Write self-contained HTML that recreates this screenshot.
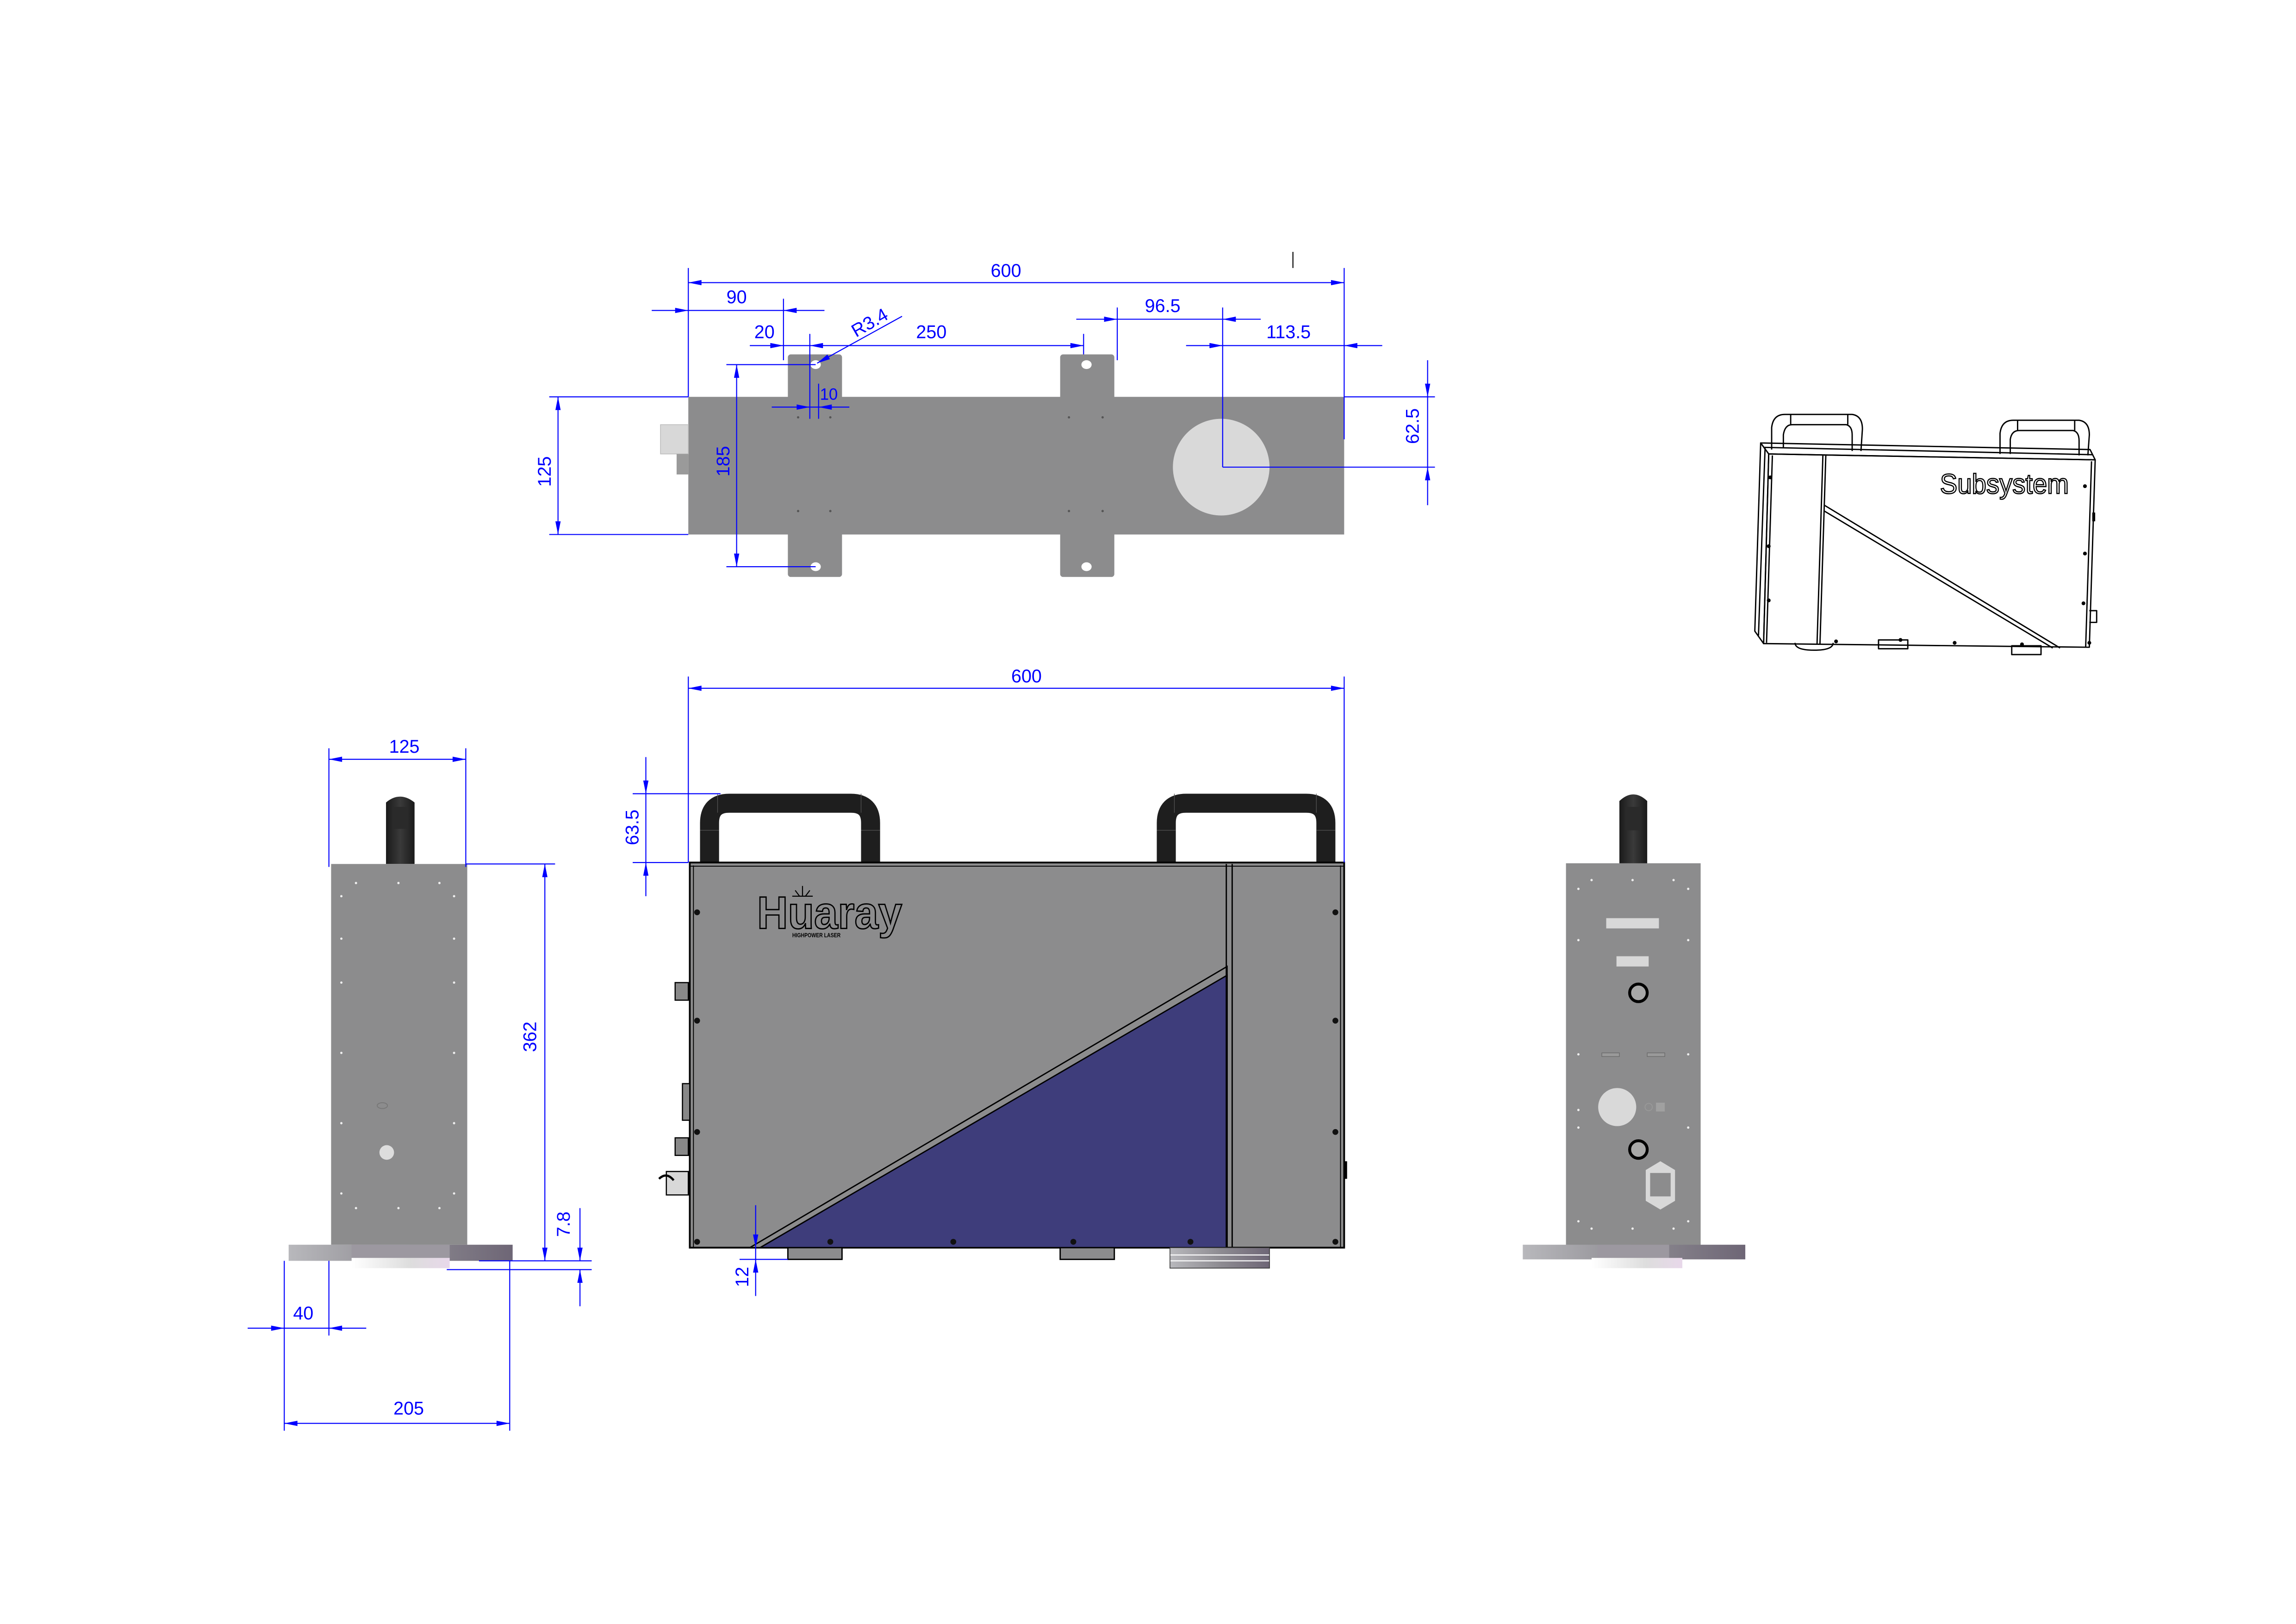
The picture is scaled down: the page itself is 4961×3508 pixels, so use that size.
<!DOCTYPE html>
<html><head><meta charset="utf-8"><style>
html,body{margin:0;padding:0;background:#fff;}
svg{display:block;}
.d{stroke:#0000ff;stroke-width:0.7;fill:none;}
.t{fill:#0000ff;font-family:"Liberation Sans Narrow","Liberation Sans",sans-serif;font-size:12.5px;text-anchor:middle;}
.k{stroke:#000;fill:none;}
</style></head><body>
<svg width="4961" height="3508" viewBox="0 0 1568 1109" xmlns="http://www.w3.org/2000/svg">
<defs>
<marker id="a" viewBox="0 0 10 4" refX="10" refY="2" markerWidth="10" markerHeight="3.6" markerUnits="userSpaceOnUse" orient="auto-start-reverse"><path d="M0,0 L10,2 L0,4z" fill="#0000ff"/></marker>
<linearGradient id="bg" x1="0" x2="1" y1="0" y2="0"><stop offset="0" stop-color="#b8b8bc"/><stop offset="0.5" stop-color="#8e8c92"/><stop offset="1" stop-color="#6e6676"/></linearGradient>
<linearGradient id="wg" x1="0" x2="1"><stop offset="0" stop-color="#fff"/><stop offset="0.6" stop-color="#ddd"/><stop offset="1" stop-color="#e8d8ea"/></linearGradient>
<linearGradient id="kn" x1="0" x2="1"><stop offset="0" stop-color="#1a1a1a"/><stop offset="0.5" stop-color="#3a3a3a"/><stop offset="1" stop-color="#1a1a1a"/></linearGradient>
</defs>

<!-- ================= TOP VIEW ================= -->
<rect x="538" y="242" width="37" height="152" rx="2" fill="#8c8c8d"/>
<rect x="724" y="242" width="37" height="152" rx="2" fill="#8c8c8d"/>
<rect x="470" y="271" width="448" height="94" fill="#8c8c8d"/>
<ellipse cx="557" cy="249" rx="3.5" ry="3" fill="#fff"/>
<ellipse cx="557" cy="387" rx="3.5" ry="3" fill="#fff"/>
<ellipse cx="742" cy="249" rx="3.5" ry="3" fill="#fff"/>
<ellipse cx="742" cy="387" rx="3.5" ry="3" fill="#fff"/>
<circle cx="834" cy="319" r="33" fill="#d9d9d9"/>
<rect x="451" y="290" width="19" height="20" fill="#d8d8d8" stroke="#bbb" stroke-width="0.5"/>
<rect x="462" y="310" width="8" height="14" fill="#9a9a9a"/>
<g fill="#555"><circle cx="545" cy="285" r="0.8"/><circle cx="567" cy="285" r="0.8"/><circle cx="730" cy="285" r="0.8"/><circle cx="753" cy="285" r="0.8"/><circle cx="545" cy="349" r="0.8"/><circle cx="567" cy="349" r="0.8"/><circle cx="730" cy="349" r="0.8"/><circle cx="753" cy="349" r="0.8"/></g>
<line x1="883" y1="172" x2="883" y2="183" stroke="#000" stroke-width="0.7"/>
<!-- 600 -->
<line class="d" x1="470" y1="183" x2="470" y2="271"/>
<line class="d" x1="918" y1="183" x2="918" y2="300"/>
<line class="d" x1="470" y1="193" x2="918" y2="193" marker-start="url(#a)" marker-end="url(#a)"/>
<text class="t" x="687" y="189">600</text>
<!-- 90 -->
<line class="d" x1="445" y1="212" x2="470" y2="212" marker-end="url(#a)"/>
<line class="d" x1="470" y1="212" x2="535" y2="212"/>
<line class="d" x1="563" y1="212" x2="535" y2="212" marker-end="url(#a)"/>
<line class="d" x1="535" y1="204" x2="535" y2="246"/>
<text class="t" x="503" y="207">90</text>
<!-- 20 / 250 -->
<line class="d" x1="512" y1="236" x2="535" y2="236" marker-end="url(#a)"/>
<line class="d" x1="535" y1="236" x2="553" y2="236"/>
<line class="d" x1="553" y1="236" x2="740" y2="236" marker-start="url(#a)" marker-end="url(#a)"/>
<line class="d" x1="553" y1="228" x2="553" y2="286"/>
<line class="d" x1="559" y1="262" x2="559" y2="286"/>
<line class="d" x1="740" y1="228" x2="740" y2="242"/>
<text class="t" x="522" y="231">20</text>
<text class="t" x="636" y="231">250</text>
<!-- R3.4 -->
<line class="d" x1="616" y1="216" x2="558" y2="248" marker-end="url(#a)"/>
<text class="t" transform="translate(596,224) rotate(-30)" x="0" y="0">R3.4</text>
<!-- 10 -->
<line class="d" x1="527" y1="278" x2="553" y2="278" marker-end="url(#a)"/>
<line class="d" x1="553" y1="278" x2="559" y2="278"/>
<line class="d" x1="580" y1="278" x2="559" y2="278" marker-end="url(#a)"/>
<text class="t" x="566" y="273" style="font-size:11px">10</text>
<!-- 185 -->
<line class="d" x1="496" y1="249" x2="557" y2="249"/>
<line class="d" x1="496" y1="387" x2="557" y2="387"/>
<line class="d" x1="503" y1="249" x2="503" y2="387" marker-start="url(#a)" marker-end="url(#a)"/>
<text class="t" transform="translate(498,315) rotate(-90)">185</text>
<!-- 125 -->
<line class="d" x1="375" y1="271" x2="470" y2="271"/>
<line class="d" x1="375" y1="365" x2="470" y2="365"/>
<line class="d" x1="381" y1="271" x2="381" y2="365" marker-start="url(#a)" marker-end="url(#a)"/>
<text class="t" transform="translate(376,322) rotate(-90)">125</text>
<!-- 96.5 -->
<line class="d" x1="735" y1="218" x2="763" y2="218" marker-end="url(#a)"/>
<line class="d" x1="763" y1="218" x2="835" y2="218"/>
<line class="d" x1="861" y1="218" x2="835" y2="218" marker-end="url(#a)"/>
<line class="d" x1="763" y1="210" x2="763" y2="246"/>
<line class="d" x1="835" y1="210" x2="835" y2="319"/>
<text class="t" x="794" y="213">96.5</text>
<!-- 113.5 -->
<line class="d" x1="810" y1="236" x2="835" y2="236" marker-end="url(#a)"/>
<line class="d" x1="835" y1="236" x2="918" y2="236"/>
<line class="d" x1="944" y1="236" x2="918" y2="236" marker-end="url(#a)"/>
<text class="t" x="880" y="231">113.5</text>
<!-- 62.5 -->
<line class="d" x1="835" y1="319" x2="980" y2="319"/>
<line class="d" x1="918" y1="271" x2="980" y2="271"/>
<line class="d" x1="975" y1="246" x2="975" y2="271" marker-end="url(#a)"/>
<line class="d" x1="975" y1="271" x2="975" y2="319"/>
<line class="d" x1="975" y1="345" x2="975" y2="319" marker-end="url(#a)"/>
<text class="t" transform="translate(969,291) rotate(-90)">62.5</text>

<!-- ================= FRONT VIEW ================= -->
<!-- handles -->
<path d="M484.5,589 V562 Q484.5,548.5 498,548.5 H581 Q594.5,548.5 594.5,562 V589" fill="none" stroke="#1e1e1e" stroke-width="13"/>
<path d="M796.5,589 V562 Q796.5,548.5 810,548.5 H892 Q905.5,548.5 905.5,562 V589" fill="none" stroke="#1e1e1e" stroke-width="13"/>
<g stroke="#555" stroke-width="0.4"><line x1="490" y1="542" x2="490" y2="555"/><line x1="588" y1="542" x2="588" y2="555"/><line x1="478" y1="567" x2="491" y2="567"/><line x1="588" y1="567" x2="601" y2="567"/><line x1="802" y1="542" x2="802" y2="555"/><line x1="899" y1="542" x2="899" y2="555"/><line x1="790" y1="567" x2="803" y2="567"/><line x1="899" y1="567" x2="912" y2="567"/></g>
<!-- body -->
<rect x="471" y="589" width="447" height="263" fill="#8c8c8d" stroke="#000" stroke-width="1.2"/>
<line x1="471" y1="591.5" x2="918" y2="591.5" stroke="#000" stroke-width="0.6"/>
<line x1="473.5" y1="591" x2="473.5" y2="852" stroke="#000" stroke-width="0.6"/>
<line x1="915.5" y1="591" x2="915.5" y2="852" stroke="#000" stroke-width="0.6"/>
<polygon points="512,852 838,660 838,852" fill="#8c8c8d" stroke="#000" stroke-width="0.9"/>
<polygon points="519,852 838,666 838,852" fill="#3e3d7b" stroke="#000" stroke-width="0.9"/>
<line x1="837.5" y1="590" x2="837.5" y2="852" stroke="#000" stroke-width="0.9"/>
<line x1="841.5" y1="590" x2="841.5" y2="852" stroke="#000" stroke-width="0.9"/>
<!-- logo -->
<text x="517" y="634" textLength="99" lengthAdjust="spacingAndGlyphs" style="font-family:'Liberation Sans',sans-serif;font-size:31px;font-weight:bold;fill:#8c8c8d;stroke:#000;stroke-width:0.9">Huaray</text>
<g stroke="#000" stroke-width="0.7"><line x1="548" y1="605" x2="548" y2="612"/><line x1="543" y1="608" x2="546" y2="612"/><line x1="553" y1="608" x2="550" y2="612"/><line x1="541" y1="612" x2="555" y2="612"/></g>
<text x="541" y="640" textLength="33" lengthAdjust="spacingAndGlyphs" style="font-family:'Liberation Sans',sans-serif;font-size:4px;font-weight:bold;fill:#000">HIGHPOWER LASER</text>
<!-- screws -->
<g fill="#111"><circle cx="476" cy="623" r="2"/><circle cx="476" cy="697" r="2"/><circle cx="476" cy="773" r="2"/><circle cx="476" cy="848" r="2"/><circle cx="912" cy="623" r="2"/><circle cx="912" cy="697" r="2"/><circle cx="912" cy="773" r="2"/><circle cx="912" cy="848" r="2"/><circle cx="567" cy="848" r="2"/><circle cx="651" cy="848" r="2"/><circle cx="733" cy="848" r="2"/><circle cx="813" cy="848" r="2"/></g>
<!-- side connectors -->
<rect x="461" y="671" width="9" height="12" fill="#888" stroke="#000" stroke-width="0.8"/>
<rect x="466" y="740" width="5" height="25" fill="#888" stroke="#000" stroke-width="0.8"/>
<rect x="461" y="777" width="9" height="12" fill="#888" stroke="#000" stroke-width="0.8"/>
<rect x="455" y="800" width="15" height="16" fill="#d8d8d8" stroke="#000" stroke-width="0.8"/>
<path d="M450,805 Q455,800 460,806" stroke="#000" stroke-width="1.5" fill="none"/>
<rect x="918" y="793" width="2" height="12" fill="#000"/>
<!-- feet -->
<rect x="538" y="852" width="37" height="8" fill="#8c8c8d" stroke="#000" stroke-width="0.9"/>
<rect x="724" y="852" width="37" height="8" fill="#8c8c8d" stroke="#000" stroke-width="0.9"/>
<rect x="799" y="852" width="68" height="14" fill="url(#bg)"/>
<g stroke="#fff" stroke-width="0.7"><line x1="799" y1="857" x2="867" y2="857"/><line x1="799" y1="861" x2="867" y2="861"/></g>
<rect x="799" y="852" width="68" height="14" fill="none" stroke="#333" stroke-width="0.5"/>
<!-- 600 -->
<line class="d" x1="470" y1="462" x2="470" y2="589"/>
<line class="d" x1="918" y1="462" x2="918" y2="589"/>
<line class="d" x1="470" y1="470" x2="918" y2="470" marker-start="url(#a)" marker-end="url(#a)"/>
<text class="t" x="701" y="466">600</text>
<!-- 63.5 -->
<line class="d" x1="432" y1="542" x2="492" y2="542"/>
<line class="d" x1="432" y1="589" x2="470" y2="589"/>
<line class="d" x1="441" y1="517" x2="441" y2="542" marker-end="url(#a)"/>
<line class="d" x1="441" y1="542" x2="441" y2="589"/>
<line class="d" x1="441" y1="612" x2="441" y2="589" marker-end="url(#a)"/>
<text class="t" transform="translate(436,565) rotate(-90)">63.5</text>
<!-- 12 -->
<line class="d" x1="505" y1="860" x2="538" y2="860"/>
<line class="d" x1="516" y1="823" x2="516" y2="852" marker-end="url(#a)"/>
<line class="d" x1="516" y1="852" x2="516" y2="860"/>
<line class="d" x1="516" y1="885" x2="516" y2="860" marker-end="url(#a)"/>
<text class="t" transform="translate(511,872) rotate(-90)">12</text>

<!-- ================= LEFT SIDE VIEW ================= -->
<path d="M263.5,590 V548 Q273,540 283,548 V590Z" fill="url(#kn)"/>
<rect x="268" y="551" width="10" height="15" fill="#2a2a2a"/>
<rect x="226" y="590" width="93" height="260" fill="#8c8c8d"/>
<rect x="197" y="850" width="153" height="11" fill="url(#bg)"/>
<rect x="240" y="850" width="67" height="11" fill="#9c98a0"/>
<rect x="240" y="859" width="67" height="7" fill="url(#wg)"/>
<g fill="#eee"><circle cx="243" cy="603" r="0.8"/><circle cx="272" cy="603" r="0.8"/><circle cx="300" cy="603" r="0.8"/><circle cx="233" cy="612" r="0.8"/><circle cx="310" cy="612" r="0.8"/><circle cx="233" cy="641" r="0.8"/><circle cx="310" cy="641" r="0.8"/><circle cx="233" cy="671" r="0.8"/><circle cx="310" cy="671" r="0.8"/><circle cx="233" cy="719" r="0.8"/><circle cx="310" cy="719" r="0.8"/><circle cx="233" cy="767" r="0.8"/><circle cx="310" cy="767" r="0.8"/><circle cx="233" cy="815" r="0.8"/><circle cx="310" cy="815" r="0.8"/><circle cx="243" cy="825" r="0.8"/><circle cx="272" cy="825" r="0.8"/><circle cx="300" cy="825" r="0.8"/></g>
<ellipse cx="261" cy="755" rx="3.5" ry="2" fill="none" stroke="#777" stroke-width="0.6"/>
<circle cx="264" cy="787" r="5" fill="#ddd"/>
<!-- 125 -->
<line class="d" x1="224.5" y1="511" x2="224.5" y2="592"/>
<line class="d" x1="318" y1="511" x2="318" y2="592"/>
<line class="d" x1="224.5" y1="518.5" x2="318" y2="518.5" marker-start="url(#a)" marker-end="url(#a)"/>
<text class="t" x="276" y="514">125</text>
<!-- 362 -->
<line class="d" x1="318" y1="590" x2="379" y2="590"/>
<line class="d" x1="372" y1="590" x2="372" y2="861" marker-start="url(#a)" marker-end="url(#a)"/>
<text class="t" transform="translate(366,708) rotate(-90)">362</text>
<!-- 7.8 -->
<line class="d" x1="327" y1="861" x2="404" y2="861"/>
<line class="d" x1="305" y1="867" x2="404" y2="867"/>
<line class="d" x1="396" y1="825" x2="396" y2="861" marker-end="url(#a)"/>
<line class="d" x1="396" y1="892" x2="396" y2="867" marker-end="url(#a)"/>
<text class="t" transform="translate(389,836) rotate(-90)">7.8</text>
<!-- 40 -->
<line class="d" x1="194" y1="861" x2="194" y2="977"/>
<line class="d" x1="224.5" y1="861" x2="224.5" y2="912"/>
<line class="d" x1="169" y1="907" x2="194" y2="907" marker-end="url(#a)"/>
<line class="d" x1="194" y1="907" x2="224.5" y2="907"/>
<line class="d" x1="250" y1="907" x2="224.5" y2="907" marker-end="url(#a)"/>
<text class="t" x="207" y="901">40</text>
<!-- 205 -->
<line class="d" x1="348" y1="861" x2="348" y2="977"/>
<line class="d" x1="194" y1="972" x2="348" y2="972" marker-start="url(#a)" marker-end="url(#a)"/>
<text class="t" x="279" y="966">205</text>

<!-- ================= RIGHT SIDE VIEW ================= -->
<path d="M1106,590 V547 Q1115.5,538 1125,547 V590Z" fill="url(#kn)"/>
<rect x="1110" y="551" width="11" height="16" fill="#2a2a2a"/>
<rect x="1069.5" y="589.5" width="92" height="261" fill="#8c8c8d"/>
<rect x="1040" y="850" width="152" height="10" fill="url(#bg)"/>
<rect x="1091" y="850" width="49" height="10" fill="#9c98a0"/>
<rect x="1087" y="859" width="62" height="7" fill="url(#wg)"/>
<rect x="1097" y="627" width="36" height="7" fill="#d8d8d8"/>
<rect x="1104" y="653" width="22" height="7" fill="#d8d8d8"/>
<circle cx="1119" cy="678" r="6" fill="#a8a8a8" stroke="#000" stroke-width="2"/>
<rect x="1094" y="719" width="12" height="2.5" fill="#999" stroke="#666" stroke-width="0.4"/>
<rect x="1125" y="719" width="12" height="2.5" fill="#999" stroke="#666" stroke-width="0.4"/>
<circle cx="1104.5" cy="756" r="13" fill="#d9d9d9"/>
<circle cx="1126" cy="756" r="2.5" fill="none" stroke="#999" stroke-width="0.6"/>
<rect x="1131" y="753" width="6" height="6" fill="#a0a0a0"/>
<circle cx="1119" cy="785" r="6" fill="#a8a8a8" stroke="#000" stroke-width="2"/>
<polygon points="1134,793 1144,799 1144,820 1134,826 1124,820 1124,799" fill="#d8d8d8"/>
<rect x="1127" y="801" width="14" height="16" fill="#8c8c8d"/>
<g fill="#eee"><circle cx="1087" cy="601" r="0.8"/><circle cx="1115" cy="601" r="0.8"/><circle cx="1143" cy="601" r="0.8"/><circle cx="1078" cy="607" r="0.8"/><circle cx="1153" cy="607" r="0.8"/><circle cx="1078" cy="642" r="0.8"/><circle cx="1153" cy="642" r="0.8"/><circle cx="1078" cy="720" r="0.8"/><circle cx="1153" cy="720" r="0.8"/><circle cx="1078" cy="758" r="0.8"/><circle cx="1153" cy="770" r="0.8"/><circle cx="1078" cy="770" r="0.8"/><circle cx="1078" cy="834" r="0.8"/><circle cx="1153" cy="834" r="0.8"/><circle cx="1087" cy="839" r="0.8"/><circle cx="1115" cy="839" r="0.8"/><circle cx="1143" cy="839" r="0.8"/></g>

<!-- ================= ISOMETRIC ================= -->
<g fill="none" stroke="#000" stroke-width="0.9" stroke-linejoin="round">
<!-- handles -->
<path d="M1210,307 V292 Q1211,283 1219,283 H1265 Q1272,284 1272,293 L1271,308"/>
<path d="M1218,306 V297 Q1219,290 1224,290 H1261 Q1265,291 1265,297 L1265,308"/>
<line x1="1223" y1="283" x2="1223" y2="290"/><line x1="1262" y1="283" x2="1262" y2="290"/>
<path d="M1366,310 V296 Q1367,287 1375,287 H1420 Q1427,288 1427,297 L1426,311"/>
<path d="M1373,310 V300 Q1374,294 1379,294 H1416 Q1420,295 1420,301 L1420,311"/>
<line x1="1378" y1="287" x2="1378" y2="294"/><line x1="1417" y1="287" x2="1417" y2="294"/>
<!-- top strip -->
<path d="M1202.5,302.5 L1427.5,307 L1431,314 L1208,310 Z"/>
<line x1="1205" y1="305.5" x2="1429" y2="310.5"/>
<!-- left side face -->
<path d="M1202.5,302.5 L1208,310 L1204.5,439.5 L1198.5,431 Z"/>
<line x1="1205.5" y1="306" x2="1201" y2="434"/>
<!-- front face -->
<path d="M1208,310 L1431,314 L1427,442 L1204.5,439.5 Z"/>
<line x1="1210.5" y1="311" x2="1206.5" y2="439"/>
<line x1="1428.5" y1="315" x2="1424.5" y2="442"/>
<!-- divider -->
<line x1="1245" y1="311" x2="1241" y2="440"/>
<line x1="1247" y1="311" x2="1243" y2="440"/>
<!-- diagonal -->
<line x1="1246" y1="345" x2="1407" y2="442.5"/>
<line x1="1246" y1="349" x2="1402" y2="442.5"/>
<!-- feet -->
<path d="M1283,437 h20 v6 h-20 z"/>
<path d="M1374,441 h20 v6 h-20 z"/>
<path d="M1226,439 q0,5 13,5 q13,0 13,-5"/>
<path d="M1427,417 h5 v8 h-5"/>
</g>
<g fill="#000"><circle cx="1209" cy="326" r="1.3"/><circle cx="1208" cy="373" r="1.3"/><circle cx="1208" cy="410" r="1.3"/><circle cx="1424" cy="332" r="1.3"/><circle cx="1424" cy="378" r="1.3"/><circle cx="1423" cy="412" r="1.3"/><circle cx="1427" cy="439" r="1.3"/><circle cx="1254" cy="438" r="1.3"/><circle cx="1298" cy="437" r="1.3"/><circle cx="1335" cy="439" r="1.3"/><circle cx="1381" cy="440" r="1.3"/><rect x="1429" y="350" width="2" height="6"/></g>
<text x="1325" y="337" textLength="88" lengthAdjust="spacingAndGlyphs" style="font-family:'Liberation Sans',sans-serif;font-size:19px;fill:#fff;stroke:#000;stroke-width:0.8">Subsystem</text>
</svg>
</body></html>
